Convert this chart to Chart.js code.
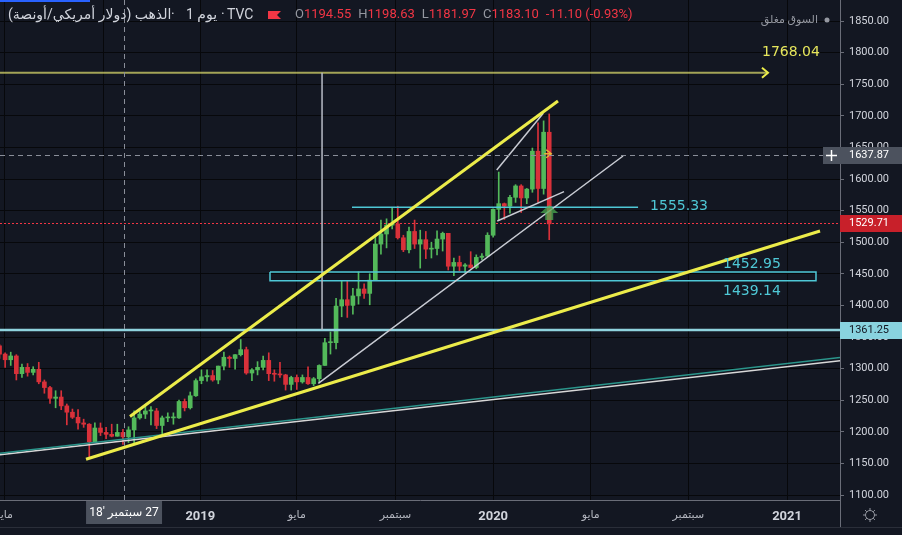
<!DOCTYPE html>
<html>
<head>
<meta charset="utf-8">
<title>الذهب</title>
<script src="https://cdn.jsdelivr.net/npm/chart.js@4.4.1/dist/chart.umd.min.js"></script>
<style>
  html, body { margin: 0; padding: 0; background: #131722; overflow: hidden; }
  canvas { display: block; }
</style>
</head>
<body>
<canvas id="chart" width="902" height="535"></canvas>
<script>
// x = trading day index (Mon-Fri), day 0 = Thu 26 Apr 2018
// one candle per week, centred on the Wednesday
const firstWeekDay = -1;
const daysPerWeek = 5;

const weekOpen = [
  1336, 1323, 1314, 1320, 1292, 1302, 1294, 1299, 1279, 1270,
  1253, 1255, 1241, 1231, 1223, 1214, 1212, 1184, 1206, 1199,
  1196, 1193, 1199, 1192, 1203, 1222, 1228, 1233, 1233, 1210,
  1222, 1222, 1222, 1248, 1238, 1257, 1281, 1287, 1289, 1282,
  1304, 1318, 1316, 1322, 1330, 1293, 1298, 1302, 1313, 1292,
  1291, 1290, 1275, 1286, 1279, 1286, 1276, 1284, 1305, 1341,
  1341, 1399, 1409, 1400, 1415, 1426, 1419, 1440, 1497, 1513,
  1527, 1529, 1507, 1488, 1517, 1497, 1504, 1489, 1490, 1505,
  1514, 1462, 1468, 1462, 1464, 1460, 1476, 1478, 1511, 1552,
  1561, 1557, 1571, 1589, 1570, 1584, 1644, 1585, 1674
];
const weekHigh = [
  1338, 1325, 1326, 1322, 1307, 1308, 1303, 1310, 1282, 1272,
  1265, 1265, 1244, 1236, 1235, 1220, 1213, 1214, 1214, 1207,
  1212, 1212, 1204, 1208, 1233, 1233, 1243, 1240, 1237, 1225,
  1230, 1230, 1250, 1252, 1263, 1284, 1298, 1298, 1297, 1304,
  1326, 1320, 1322, 1346, 1334, 1300, 1311, 1320, 1325, 1298,
  1310, 1291, 1288, 1290, 1290, 1303, 1286, 1306, 1348, 1358,
  1411, 1439, 1438, 1427, 1453, 1434, 1450, 1510, 1535, 1537,
  1555, 1557, 1511, 1524, 1535, 1519, 1517, 1500, 1518, 1516,
  1514, 1475, 1478, 1466, 1485, 1480, 1482, 1515, 1553, 1611,
  1562, 1574, 1591, 1591, 1585, 1649, 1689, 1692, 1703
];
const weekLow = [
  1316, 1302, 1305, 1282, 1286, 1288, 1290, 1276, 1261, 1245,
  1238, 1235, 1211, 1221, 1204, 1207, 1160, 1183, 1194, 1189,
  1192, 1193, 1180, 1183, 1182, 1220, 1221, 1211, 1205, 1196,
  1216, 1212, 1221, 1233, 1236, 1256, 1276, 1280, 1280, 1276,
  1298, 1302, 1299, 1320, 1291, 1281, 1290, 1298, 1281, 1280,
  1286, 1266, 1266, 1267, 1277, 1275, 1273, 1279, 1305, 1323,
  1331, 1382, 1381, 1386, 1402, 1411, 1401, 1440, 1481, 1491,
  1521, 1505, 1485, 1483, 1490, 1459, 1474, 1475, 1480, 1486,
  1456, 1447, 1455, 1452, 1459, 1458, 1472, 1477, 1508, 1535,
  1536, 1546, 1563, 1547, 1561, 1579, 1563, 1576, 1504
];
const weekClose = [
  1323, 1314, 1320, 1292, 1302, 1294, 1299, 1279, 1270, 1253,
  1255, 1241, 1231, 1223, 1214, 1212, 1184, 1206, 1199, 1196,
  1193, 1199, 1192, 1203, 1222, 1228, 1233, 1233, 1210, 1222,
  1222, 1222, 1248, 1238, 1257, 1281, 1287, 1289, 1282, 1304,
  1318, 1316, 1322, 1330, 1293, 1298, 1302, 1313, 1292, 1291,
  1290, 1275, 1286, 1279, 1286, 1276, 1284, 1305, 1341, 1341,
  1399, 1409, 1400, 1415, 1426, 1419, 1440, 1497, 1513, 1527,
  1529, 1507, 1488, 1517, 1497, 1504, 1489, 1490, 1505, 1514,
  1462, 1468, 1462, 1464, 1460, 1476, 1478, 1511, 1552, 1561,
  1557, 1571, 1589, 1570, 1584, 1644, 1585, 1674, 1529
];

const xTickDays = [3, 92, 178, 264, 352, 439, 526, 613, 701];
const xTickLabels = ['مايو', 'سبتمبر', '2019', 'مايو', 'سبتمبر', '2020', 'مايو', 'سبتمبر', '2021'];
const priceTicks = [1100, 1150, 1200, 1250, 1300, 1350, 1400, 1450, 1500, 1550, 1600, 1650, 1700, 1750, 1800, 1850];

// drawings: [day, price, day, price]
const yellowTrends = [
  [115.3, 1224.1, 496.8, 1723.4],
  [76.1, 1156.5, 730.4, 1517.7]
];
const grayTrends = [
  [283.2, 1276.7, 554.8, 1636.4],
  [442.7, 1533.5, 502.2, 1580.0],
  [442.2, 1614.2, 483.7, 1704.0]
];
const supportTeal = [-0.6, 1166.0, 748.2, 1317.5];
const supportWhite = [-0.6, 1163.5, 748.2, 1312.5];
const measureLine = [286.5, 1768.04, 286.5, 1361.25];

const targetLevel = 1768.04, targetFrom = -0.6, targetTo = 684;
const resistLevel = 1555.33, resistFrom = 313.2, resistTo = 568.2;
const zoneTop = 1452.95, zoneBottom = 1439.14, zoneFrom = 240.1, zoneTo = 726.8;
const supportLevel = 1361.25;
const lastPrice = 1529.71;
const crossDay = 110, crossPrice = 1637.87, crossDate = "27 سبتمبر '18";
const signalDay = 489, signalPrice = 1559;

const legendTitle = 'الذهب (دولار أمريكي/أونصة)';
const legendInterval = '1 يوم';
const legendSource = 'TVC';
const legendOHLC = [['O', '1194.55'], ['H', '1198.63'], ['L', '1181.97'], ['C', '1183.10']];
const legendChange = '-11.10 (-0.93%)';

const BG = '#131722';
const GRID = '#07080b';
const AXIS = '#6a6d78';
const TEXT = '#d1d4dc';
const UP = '#53b95a';
const DOWN = '#d9313a';
const YELLOW = '#ecec4a';
const CYAN = '#4fc8d6';
const FONT = 'Roboto, "DejaVu Sans", sans-serif';

const candleX = weekOpen.map((_, i) => firstWeekDay + daysPerWeek * i);
const candleColor = weekOpen.map((o, i) => weekClose[i] >= o ? UP : DOWN);

function seg(s) {
  return [{ x: s[0], y: s[1] }, { x: s[2], y: s[3] }];
}
function lineSet(points, color, width) {
  return { type: 'line', data: points, borderColor: color, borderWidth: width,
    pointRadius: 0, fill: false, tension: 0 };
}
function isYearTick(c) {
  if (!c || !c.tick) return false;
  return /^\d+$/.test(xTickLabels[xTickDays.indexOf(c.tick.value)] || '');
}

const datasets = [];
yellowTrends.forEach(s => datasets.push(lineSet(seg(s), YELLOW, 3)));
grayTrends.forEach(s => datasets.push(lineSet(seg(s), '#c9ccd4', 1.5)));
datasets.push(lineSet(seg(measureLine), '#b8bcc6', 1.5));
datasets.push(lineSet(seg([resistFrom, resistLevel, resistTo, resistLevel]), CYAN, 1.5));
datasets.push(lineSet([
  { x: zoneFrom, y: zoneTop }, { x: zoneTo, y: zoneTop }, { x: zoneTo, y: zoneBottom },
  { x: zoneFrom, y: zoneBottom }, { x: zoneFrom, y: zoneTop }
], CYAN, 1.5));
datasets.push(lineSet(seg([targetFrom, targetLevel, targetTo, targetLevel]), 'rgba(225,225,110,0.7)', 2));
datasets.push(lineSet(seg([-0.6, supportLevel, 748.2, supportLevel]), '#8fd3de', 2.5));
datasets.push(lineSet(seg(supportTeal), '#2b958b', 1.5));
datasets.push(lineSet(seg(supportWhite), '#d8d8d8', 1.5));
datasets.push({
  type: 'bar', grouped: false, barThickness: 4, minBarLength: 1, borderWidth: 0,
  data: candleX.map((x, i) => ({ x: x, y: [weekOpen[i], weekClose[i]] })),
  backgroundColor: candleColor
});
datasets.push({
  type: 'bar', grouped: false, barThickness: 1, borderWidth: 0,
  data: candleX.map((x, i) => ({ x: x, y: [weekLow[i], weekHigh[i]] })),
  backgroundColor: candleColor
});

function box(ctx, x, y, w, h, fill) {
  ctx.fillStyle = fill;
  ctx.fillRect(x, y, w, h);
}

const overlay = {
  id: 'overlay',
  beforeDraw(chart) {
    const ctx = chart.ctx;
    ctx.save();
    ctx.fillStyle = BG;
    ctx.fillRect(0, 0, chart.width, chart.height);
    ctx.restore();
  },
  beforeDatasetsDraw(chart) {
    const { ctx, chartArea: a, scales: { y } } = chart;
    const py = Math.round(y.getPixelForValue(lastPrice)) + 0.5;
    ctx.save();
    ctx.strokeStyle = '#f23645';
    ctx.lineWidth = 1;
    ctx.setLineDash([2, 2]);
    ctx.beginPath();
    ctx.moveTo(a.left, py);
    ctx.lineTo(a.right, py);
    ctx.stroke();
    ctx.restore();
  },
  afterDatasetsDraw(chart) {
    const { ctx, chartArea: a, scales: { x, y } } = chart;
    const X = v => x.getPixelForValue(v), Y = v => y.getPixelForValue(v);
    ctx.save();
    ctx.beginPath();
    ctx.rect(a.left, a.top, a.right - a.left, a.bottom - a.top);
    ctx.clip();

    // arrow head on the target line
    const ax = X(targetTo), ay = Y(targetLevel);
    ctx.strokeStyle = YELLOW;
    ctx.lineWidth = 2;
    ctx.beginPath();
    ctx.moveTo(ax - 6, ay - 5);
    ctx.lineTo(ax, ay);
    ctx.lineTo(ax - 6, ay + 5);
    ctx.stroke();

    ctx.font = '14px "DejaVu Sans"';
    ctx.textBaseline = 'middle';
    ctx.textAlign = 'left';
    ctx.fillStyle = '#e6e65c';
    ctx.fillText(targetLevel.toFixed(2), ax - 6, ay - 20);
    ctx.fillStyle = CYAN;
    ctx.fillText(resistLevel.toFixed(2), X(resistTo) + 12, Y(resistLevel) - 1);
    ctx.fillText(zoneTop.toFixed(2), X(zoneTo) - 93, Y(zoneTop) - 8);
    ctx.fillText(zoneBottom.toFixed(2), X(zoneTo) - 93, Y(zoneBottom) + 11);

    // small marker near the last bars
    const mx = X(signalDay), my = Y(1640);
    ctx.strokeStyle = '#e8b339';
    ctx.lineWidth = 1.5;
    ctx.beginPath();
    ctx.moveTo(mx - 3, my - 4);
    ctx.lineTo(mx + 2, my);
    ctx.lineTo(mx - 3, my + 4);
    ctx.moveTo(mx - 5, my);
    ctx.lineTo(mx + 2, my);
    ctx.stroke();

    // green up arrow
    const sx = X(signalDay), sy = Y(signalPrice);
    ctx.fillStyle = 'rgba(76,175,80,0.72)';
    ctx.beginPath();
    ctx.moveTo(sx, sy);
    ctx.lineTo(sx + 9, sy + 8);
    ctx.lineTo(sx + 4, sy + 8);
    ctx.lineTo(sx + 4, sy + 15);
    ctx.lineTo(sx - 4, sy + 15);
    ctx.lineTo(sx - 4, sy + 8);
    ctx.lineTo(sx - 9, sy + 8);
    ctx.closePath();
    ctx.fill();

    // crosshair
    const cx = Math.round(X(crossDay)) + 0.5, cy = Math.round(Y(crossPrice)) + 0.5;
    ctx.strokeStyle = '#8a8e99';
    ctx.lineWidth = 1;
    ctx.setLineDash([5, 4]);
    ctx.beginPath();
    ctx.moveTo(cx, a.top);
    ctx.lineTo(cx, a.bottom);
    ctx.moveTo(a.left, cy);
    ctx.lineTo(a.right, cy);
    ctx.stroke();
    ctx.restore();
  },
  afterDraw(chart) {
    const { ctx, chartArea: a, scales: { x, y } } = chart;
    const X = v => x.getPixelForValue(v), Y = v => y.getPixelForValue(v);
    ctx.save();
    ctx.textBaseline = 'middle';

    // price scale labels
    ctx.font = '11px ' + FONT;
    ctx.textAlign = 'left';
    const labels = [
      [crossPrice, '#4c525e', '#ffffff'],
      [lastPrice, '#c8202a', '#ffffff'],
      [supportLevel, '#89d3df', '#131722']
    ];
    labels.forEach(([v, bg, fg]) => {
      const py = Math.round(Y(v));
      box(ctx, a.right, py - 8, chart.width - a.right, 17, bg);
      ctx.fillStyle = fg;
      ctx.fillText(v.toFixed(2), a.right + 9, py + 0.5);
    });
    // plus button next to crosshair price
    const cy = Math.round(Y(crossPrice));
    box(ctx, a.right - 17, cy - 8, 17, 17, '#4c525e');
    ctx.strokeStyle = '#ffffff';
    ctx.lineWidth = 1.5;
    ctx.beginPath();
    ctx.moveTo(a.right - 14, cy + 0.5);
    ctx.lineTo(a.right - 3, cy + 0.5);
    ctx.moveTo(a.right - 8.5, cy - 5);
    ctx.lineTo(a.right - 8.5, cy + 6);
    ctx.stroke();

    // time scale crosshair label
    const tx = X(crossDay);
    box(ctx, tx - 38, a.bottom + 1, 76, 23, '#4c525e');
    ctx.fillStyle = '#ffffff';
    ctx.font = '12px ' + FONT;
    ctx.textAlign = 'center';
    ctx.direction = 'rtl';
    ctx.fillText(crossDate, tx, a.bottom + 13);
    ctx.direction = 'ltr';

    // separators at bottom right
    ctx.strokeStyle = AXIS;
    ctx.lineWidth = 1;
    ctx.beginPath();
    ctx.moveTo(a.right + 0.5, a.bottom);
    ctx.lineTo(a.right + 0.5, 527);
    ctx.stroke();
    ctx.strokeStyle = '#2a2e39';
    ctx.beginPath();
    ctx.moveTo(0, 527.5);
    ctx.lineTo(chart.width, 527.5);
    ctx.stroke();

    // settings gear
    const gx = 870, gy = 515;
    ctx.strokeStyle = '#9598a1';
    ctx.lineWidth = 1;
    ctx.beginPath();
    ctx.arc(gx, gy, 4.5, 0, Math.PI * 2);
    ctx.stroke();
    for (let k = 0; k < 8; k++) {
      const ang = k * Math.PI / 4;
      ctx.beginPath();
      ctx.moveTo(gx + Math.cos(ang) * 4.5, gy + Math.sin(ang) * 4.5);
      ctx.lineTo(gx + Math.cos(ang) * 7, gy + Math.sin(ang) * 7);
      ctx.stroke();
    }

    // top strip
    box(ctx, 0, 0, 90, 2, '#2962ff');

    // legend
    ctx.textAlign = 'left';
    ctx.font = '14px ' + FONT;
    ctx.fillStyle = TEXT;
    ctx.fillText(legendTitle, 8, 15);
    ctx.fillText('·', 171, 15);
    ctx.fillText(legendInterval, 186, 15);
    ctx.fillText('·', 221, 15);
    ctx.fillText(legendSource, 227, 15);
    // red flag
    ctx.fillStyle = '#f23645';
    ctx.beginPath();
    ctx.moveTo(268, 11);
    ctx.lineTo(281, 11);
    ctx.lineTo(277, 15);
    ctx.lineTo(281, 19);
    ctx.lineTo(268, 19);
    ctx.closePath();
    ctx.fill();
    ctx.font = '13px ' + FONT;
    let lx = 295;
    legendOHLC.forEach(([k, v]) => {
      ctx.fillStyle = '#9598a1';
      ctx.fillText(k, lx, 15);
      lx += ctx.measureText(k).width;
      ctx.fillStyle = '#f23645';
      ctx.fillText(v, lx, 15);
      lx += ctx.measureText(v).width + 7;
    });
    ctx.fillText(legendChange, lx, 15);

    // market status
    ctx.fillStyle = '#9598a1';
    ctx.beginPath();
    ctx.arc(827, 20, 2.5, 0, Math.PI * 2);
    ctx.fill();
    ctx.font = '11px ' + FONT;
    ctx.textAlign = 'right';
    ctx.fillText('السوق مغلق', 818, 20);
    ctx.restore();
  }
};

new Chart(document.getElementById('chart'), {
  type: 'bar',
  data: { datasets: datasets },
  options: {
    responsive: false,
    animation: false,
    events: [],
    layout: { padding: 0 },
    plugins: { legend: { display: false }, tooltip: { enabled: false } },
    scales: {
      x: {
        type: 'linear', min: -0.57, max: 748.2, offset: false,
        grid: { color: GRID, offset: false, drawTicks: false },
        border: { color: AXIS, width: 1 },
        ticks: {
          autoSkip: false, maxRotation: 0, padding: 9,
          color: c => isYearTick(c) ? TEXT : '#b2b5be',
          font: c => isYearTick(c)
            ? { family: FONT, size: 13, weight: 'bold' } : { family: FONT, size: 11 },
          callback: v => xTickLabels[xTickDays.indexOf(v)] || ''
        },
        afterBuildTicks: s => { s.ticks = xTickDays.map(v => ({ value: v })); },
        afterFit: s => { s.height = 35; s.paddingLeft = 0; s.paddingRight = 0; }
      },
      y: {
        type: 'linear', position: 'right', min: 1092.09, max: 1883.23,
        grid: { color: GRID, drawTicks: true, tickLength: 4, tickColor: AXIS },
        border: { color: AXIS, width: 1 },
        ticks: {
          padding: 5, color: TEXT, font: { family: FONT, size: 11 },
          callback: v => v.toFixed(2)
        },
        afterBuildTicks: s => { s.ticks = priceTicks.map(v => ({ value: v })); },
        afterFit: s => { s.width = 62; s.paddingTop = 0; s.paddingBottom = 0; }
      }
    }
  },
  plugins: [overlay]
});
</script>
</body>
</html>
